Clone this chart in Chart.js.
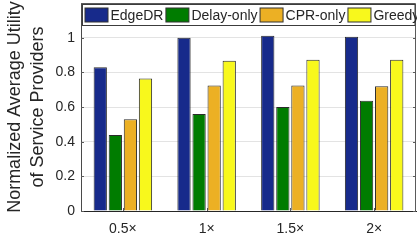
<!DOCTYPE html>
<html>
<head>
<meta charset="utf-8">
<script src="https://cdn.jsdelivr.net/npm/chart.js@4.4.0/dist/chart.umd.min.js"></script>
<style>
  html, body { margin: 0; padding: 0; background: #fff; }
  #wrap { width: 417px; height: 246px; position: relative; }
</style>
</head>
<body>
<div id="wrap"><canvas id="chart"></canvas></div>
<script>
// data
var categories = ['0.5\u00d7', '1\u00d7', '1.5\u00d7', '2\u00d7'];
var edgeDR = [0.83, 1.0, 1.011, 1.006];
var delayOnly = [0.438, 0.56, 0.60, 0.636];
var cprOnly = [0.53, 0.724, 0.724, 0.72];
var greedy = [0.764, 0.867, 0.873, 0.873];
var yTicks = [0, 0.2, 0.4, 0.6, 0.8, 1];

var seriesNames = ['EdgeDR', 'Delay-only', 'CPR-only', 'Greedy'];
var seriesColors = ['#172a8b', '#007c00', '#ecb024', '#f8f81c'];

Chart.defaults.font.family = '"Liberation Sans", Arial, sans-serif';
Chart.defaults.color = '#262626';

// box around the axes (top + right edges) with small inward ticks
var frame = {
  id: 'frame',
  beforeDatasetsDraw: function (chart) {
    var a = chart.chartArea, ctx = chart.ctx;
    var xs = chart.scales.x, ys = chart.scales.y;
    ctx.save();
    ctx.strokeStyle = '#5a5a5a';
    ctx.lineWidth = 1;
    ctx.beginPath();
    ctx.moveTo(a.left, a.top + 0.5);
    ctx.lineTo(a.right - 0.5, a.top + 0.5);
    ctx.lineTo(a.right - 0.5, a.bottom);
    ctx.stroke();
    ctx.beginPath();
    xs.ticks.forEach(function (t, i) {
      var px = Math.round(xs.getPixelForTick(i)) + 0.5;
      ctx.moveTo(px, a.top); ctx.lineTo(px, a.top + 3);
      ctx.moveTo(px, a.bottom); ctx.lineTo(px, a.bottom - 3);
    });
    yTicks.forEach(function (v) {
      var py = Math.round(ys.getPixelForValue(v)) + 0.5;
      ctx.moveTo(a.right, py); ctx.lineTo(a.right - 3, py);
      ctx.moveTo(a.left, py); ctx.lineTo(a.left + 3, py);
    });
    ctx.stroke();
    ctx.restore();
  }
};

// MATLAB-like legend drawn inside the axes
var boxLegend = {
  id: 'boxLegend',
  afterDraw: function (chart) {
    var ctx = chart.ctx, a = chart.chartArea;
    var x0 = a.left + 1.5, y0 = a.top + 1.5, h = 21;
    ctx.save();
    ctx.fillStyle = '#fff';
    ctx.fillRect(x0, y0, a.right - x0 - 1, h);
    ctx.strokeStyle = '#3c3c3c';
    ctx.lineWidth = 1;
    ctx.strokeRect(x0, y0, a.right - x0 - 1, h);
    ctx.font = '14px "Liberation Sans", Arial, sans-serif';
    ctx.textBaseline = 'middle';
    var x = x0 + 2, cy = y0 + h / 2;
    chart.data.datasets.forEach(function (ds) {
      ctx.fillStyle = ds.backgroundColor;
      ctx.fillRect(x + 0.5, cy - 7, 23, 14);
      ctx.strokeStyle = '#333';
      ctx.strokeRect(x + 0.5, cy - 7, 23, 14);
      x += 26;
      ctx.fillStyle = '#262626';
      ctx.fillText(ds.label, x, cy + 1);
      x += ctx.measureText(ds.label).width + 2;
    });
    ctx.restore();
  }
};

var datasets = [edgeDR, delayOnly, cprOnly, greedy].map(function (vals, i) {
  return {
    label: seriesNames[i],
    data: vals,
    backgroundColor: seriesColors[i],
    borderColor: '#2b2b2b',
    borderWidth: 1,
    categoryPercentage: 0.72,
    barPercentage: 0.88
  };
});

new Chart(document.getElementById('chart'), {
  type: 'bar',
  data: { labels: categories, datasets: datasets },
  options: {
    responsive: true,
    maintainAspectRatio: false,
    animation: false,
    layout: { padding: { top: 3, right: 1, left: 0, bottom: 0 } },
    plugins: { legend: { display: false }, tooltip: { enabled: false } },
    scales: {
      x: {
        grid: { display: false, drawTicks: false },
        border: { display: true, color: '#262626', width: 1 },
        ticks: { font: { size: 14 }, padding: 10, color: '#262626' },
        afterFit: function (s) { s.height = 35; s.paddingLeft = 0; s.paddingRight = 0; }
      },
      y: {
        min: 0,
        max: 1.2,
        afterBuildTicks: function (s) { s.ticks = yTicks.map(function (v) { return { value: v }; }); },
        grid: { color: '#e3e3e3', drawTicks: false },
        border: { display: true, color: '#4a4a4a', width: 1 },
        ticks: {
          font: { size: 14 },
          padding: 6,
          color: '#262626',
          callback: function (v) { return String(Math.round(v * 10) / 10); }
        },
        title: {
          display: true,
          text: ['Normalized Average Utility', 'of Service Providers'],
          font: { size: 18, lineHeight: 1.27 },
          color: '#262626',
          padding: { top: 4, bottom: 0 }
        },
        afterFit: function (s) { s.width = 81; s.paddingTop = 0; s.paddingBottom = 0; }
      }
    }
  },
  plugins: [frame, boxLegend]
});
</script>
</body>
</html>
